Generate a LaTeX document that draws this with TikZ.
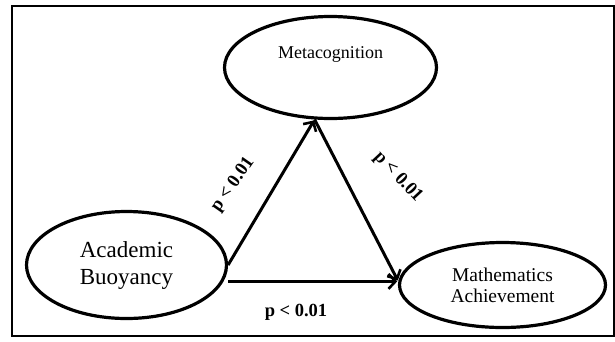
\documentclass[tikz,border=0pt]{standalone}
\usepackage{fontspec}
\setmainfont{Liberation Serif}
\usetikzlibrary{shapes.geometric,arrows.meta}
\tikzset{
  oval/.style={ellipse, draw, line width=3.2pt, inner sep=0pt, align=center},
  conn/.style={line width=3pt, -{Straight Barb[length=7pt,width=15pt,line width=2.6pt]}, shorten >=1pt},
  plabel/.style={font=\fontsize{18.5}{20}\selectfont\bfseries, inner sep=0pt}
}
\begin{document}
\begin{tikzpicture}[x=1pt,y=-1pt]
\useasboundingbox (0,0) rectangle (615,341);
\draw[line width=1.5pt] (12,6) rectangle (614,336);
\node[oval, minimum width=212pt, minimum height=102pt] (meta) at (330.5,67.5) {};
\node[font=\fontsize{18}{20}\selectfont, inner sep=0pt] (metatext) at (330.5,54) {Metacognition};
\node[oval, minimum width=200pt, minimum height=107pt, font=\fontsize{23}{27}\selectfont] (ab) at (126.5,265) {Academic\\Buoyancy};
\node[oval, minimum width=206pt, minimum height=85pt, font=\fontsize{19.5}{21}\selectfont] (ma) at (502.5,285) {Mathematics\\Achievement};
\draw[conn] (ab.east) -- (meta.-107);
\draw[conn] (meta.-107) -- (ma.178);
\draw[conn] (ab.east |- ma.178) -- (ma.178);
\node[plabel, rotate=55] (l1) at (233,185) {p < 0.01};
\node[plabel, rotate=-47] (l2) at (398,177) {p < 0.01};
\node[plabel] (l3) at (296,312) {p < 0.01};
\end{tikzpicture}
\end{document}
